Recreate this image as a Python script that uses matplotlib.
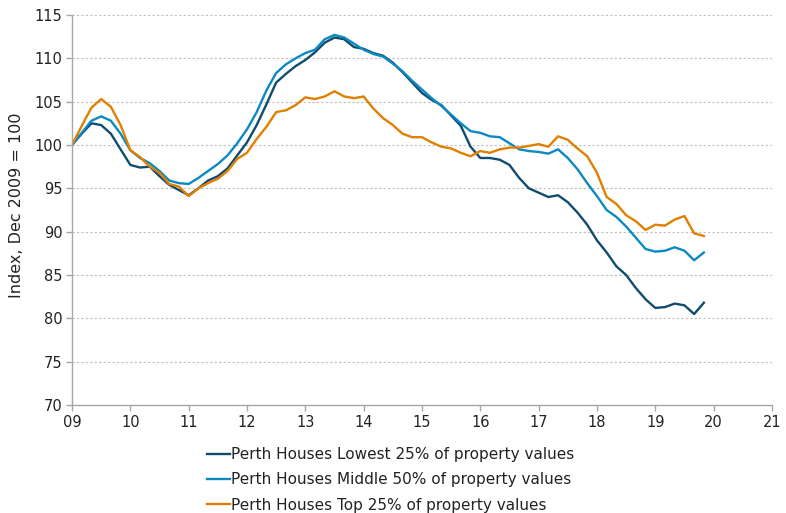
import matplotlib.pyplot as plt
import numpy as np

# two-monthly readings, starting at 09 (value 100)
years = 9 + np.arange(66) / 6

lowest = [
    100.0, 101.3, 102.5, 102.3, 101.3, 99.5, 97.7, 97.4, 97.5, 96.4,
    95.4, 94.8, 94.2, 95.0, 95.9, 96.4, 97.3, 98.8, 100.3, 102.3,
    104.7, 107.2, 108.2, 109.1, 109.8, 110.7, 111.8, 112.4, 112.2, 111.3,
    111.1, 110.6, 110.3, 109.5, 108.4, 107.2, 106.0, 105.2, 104.6, 103.4,
    102.2, 99.8, 98.5, 98.5, 98.3, 97.7, 96.2, 95.0, 94.5, 94.0,
    94.2, 93.4, 92.2, 90.8, 89.0, 87.6, 86.0, 85.0, 83.5, 82.2,
    81.2, 81.3, 81.7, 81.5, 80.5, 81.8,
]
middle = [
    100.0, 101.4, 102.8, 103.3, 102.8, 101.3, 99.4, 98.5, 97.9, 97.0,
    95.9, 95.6, 95.5, 96.2, 97.0, 97.8, 98.8, 100.2, 101.8, 103.8,
    106.3, 108.3, 109.3, 110.0, 110.6, 111.0, 112.2, 112.7, 112.4, 111.7,
    111.0, 110.5, 110.2, 109.4, 108.5, 107.4, 106.4, 105.4, 104.5, 103.5,
    102.5, 101.6, 101.4, 101.0, 100.9, 100.2, 99.5, 99.3, 99.2, 99.0,
    99.5, 98.5, 97.2, 95.6, 94.1, 92.5, 91.7, 90.6, 89.3, 88.0,
    87.7, 87.8, 88.2, 87.8, 86.7, 87.6,
]
top = [
    100.0, 102.2, 104.3, 105.3, 104.4, 102.3, 99.4, 98.6, 97.5, 96.8,
    95.5, 95.2, 94.1, 95.0, 95.6, 96.1, 97.0, 98.4, 99.1, 100.7,
    102.1, 103.8, 104.0, 104.6, 105.5, 105.3, 105.6, 106.2, 105.6, 105.4,
    105.6, 104.2, 103.1, 102.3, 101.3, 100.9, 100.9, 100.3, 99.8, 99.6,
    99.1, 98.7, 99.3, 99.1, 99.5, 99.7, 99.7, 99.9, 100.1, 99.8,
    101.0, 100.6, 99.6, 98.7, 96.8, 94.0, 93.2, 91.9, 91.2, 90.2,
    90.8, 90.7, 91.4, 91.8, 89.8, 89.5,
]

labels = [
    "Perth Houses Lowest 25% of property values",
    "Perth Houses Middle 50% of property values",
    "Perth Houses Top 25% of property values",
]
colors = ["#0f4c6e", "#0c88c2", "#e07f00"]

xticks = np.arange(9, 22)
xticklabels = [f"{int(v):02d}" for v in xticks]

plt.rcParams["font.family"] = ["DejaVu Sans"]
plt.rcParams["font.size"] = 10.5
plt.rcParams["text.color"] = "#222222"
plt.rcParams["axes.labelcolor"] = "#222222"
plt.rcParams["xtick.labelcolor"] = "#222222"
plt.rcParams["ytick.labelcolor"] = "#222222"

fig = plt.figure(figsize=(7.86, 5.13), dpi=100)
ax = fig.add_axes([0.0916, 0.2105, 0.8905, 0.7603])

for series, label, color in zip([lowest, middle, top], labels, colors):
    ax.plot(years, series, color=color, linewidth=1.7, label=label)

ax.set_xlim(9, 21)
ax.set_ylim(70, 115)
ax.set_xticks(xticks)
ax.set_xticklabels(xticklabels)
ax.set_yticks(np.arange(70, 116, 5))
ax.yaxis.grid(True, linestyle=(0, (2, 2)), color="#bdbdbd", linewidth=0.8)
ax.set_axisbelow(True)
ax.set_ylabel("Index, Dec 2009 = 100", fontsize=11.5)
ax.yaxis.set_label_coords(-0.068, 0.513)

for side in ["top", "right"]:
    ax.spines[side].set_visible(False)
for side in ["left", "bottom"]:
    ax.spines[side].set_color("#a6a6a6")
    ax.spines[side].set_linewidth(1.0)
ax.tick_params(axis="both", direction="out", color="#a6a6a6", length=4, width=1.0, pad=3)

fig.legend(
    loc="upper left",
    bbox_to_anchor=(0.263, 0.128),
    frameon=False,
    fontsize=11,
    handlelength=1.5,
    handletextpad=0.1,
    labelspacing=0.66,
    borderaxespad=0,
    borderpad=0,
)

fig.savefig("out.png", dpi=100)
